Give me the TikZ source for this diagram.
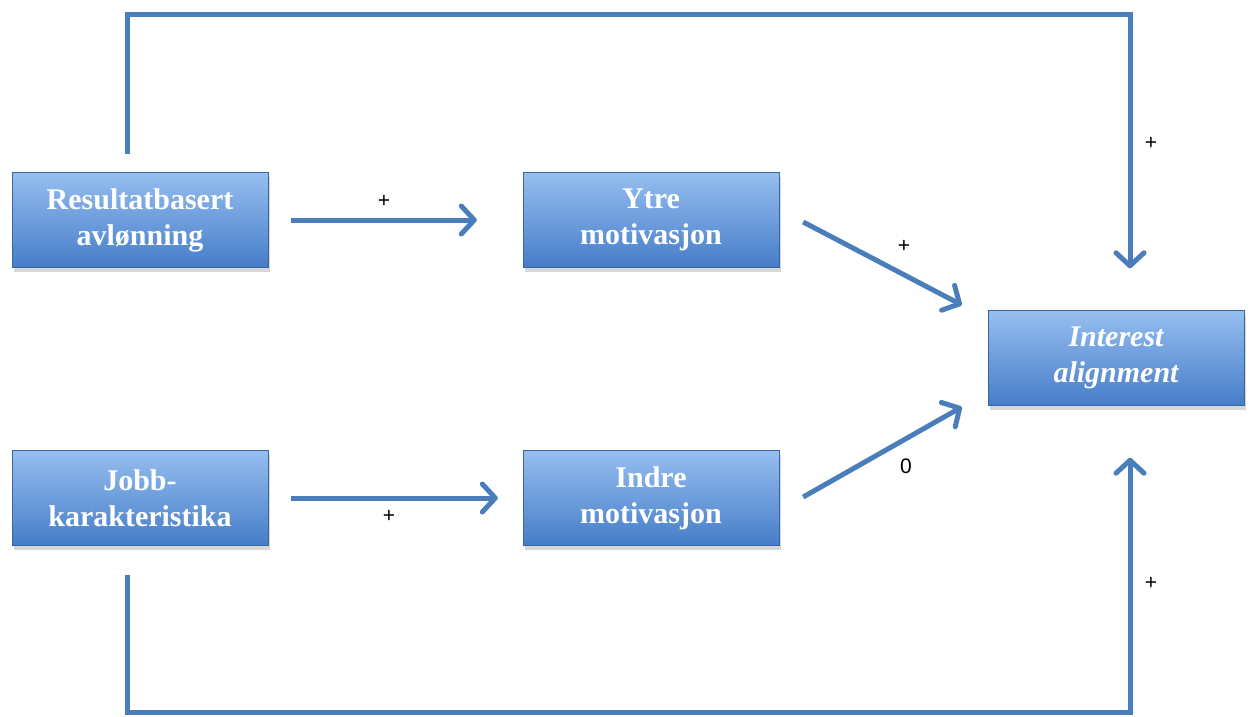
\documentclass[tikz,border=0pt]{standalone}
\usepackage{fontspec}
\setmainfont{Liberation Serif}
\newfontfamily\labelfont{Liberation Sans}
\usetikzlibrary{arrows.meta,shadows,calc}
\definecolor{linecol}{RGB}{74,126,187}
\definecolor{boxtop}{RGB}{150,190,240}
\definecolor{boxbot}{RGB}{70,125,200}
\begin{document}
\begin{tikzpicture}[x=1pt,y=-1pt,
  box/.style={rectangle, minimum width=256pt, minimum height=95pt, inner sep=0pt,
    top color=boxtop, bottom color=boxbot, draw=boxbot!80!black, line width=0.4pt,
    drop shadow={opacity=0.3, shadow xshift=2pt, shadow yshift=-4pt},
    text=white, align=center, font=\fontsize{30}{36}\selectfont\bfseries},
  conn/.style={draw=linecol, line width=5pt,
    -{Straight Barb[length=13pt,width=28pt,line width=5pt,round]}},
  lbl/.style={font=\labelfont\fontsize{21}{21}\selectfont, text=black}]
\useasboundingbox (0,0) rectangle (1250,716);
\fill[white] (0,0) rectangle (1250,716);
\node[box] (res) at (140,220) {Resultatbasert\\avlønning};
\node[box] (ytre) at (651,220) {Ytre\\motivasjon};
\node[box] (int) at (1116,358) {\itshape Interest\\\itshape alignment};
\node[box] (jobb) at (140,498) {Jobb-\\karakteristika};
\node[box] (indre) at (651,498) {Indre\\motivasjon};
% straight connectors
\draw[conn, shorten <=23pt, shorten >=46pt] (res.east) -- (ytre.west);
\draw[conn, shorten <=23pt, shorten >=25pt] (jobb.east) -- (indre.west);
\coordinate (ytreout) at ($(ytre.east)+(24,2)$);
\coordinate (intin1) at ($(int.west)+(-26,-53)$);
\draw[conn] (ytreout) -- (intin1);
\coordinate (indreout) at ($(indre.east)+(24,-1)$);
\coordinate (intin2) at ($(int.west)+(-26,49)$);
\draw[conn] (indreout) -- (intin2);
% loops
\coordinate (topstart) at ($(res.north)+(-13,-18)$);
\coordinate (intintop) at ($(int.north)+(14,-42)$);
\draw[conn] (topstart) -- (topstart |- 0,14) -- (intintop |- 0,14) -- (intintop);
\coordinate (botstart) at ($(jobb.south)+(-13,29)$);
\coordinate (intinbot) at ($(int.south)+(14,52)$);
\draw[conn] (botstart) -- (botstart |- 0,712) -- (intinbot |- 0,712) -- (intinbot);
% labels
\node[lbl] (l1) at (384,201) {+};
\node[lbl] (l2) at (389,516) {+};
\node[lbl] (l3) at (904,246) {+};
\node[lbl] (l4) at (906,466) {0};
\node[lbl] (l5) at (1151,143) {+};
\node[lbl] (l6) at (1151,583) {+};
\end{tikzpicture}
\end{document}
